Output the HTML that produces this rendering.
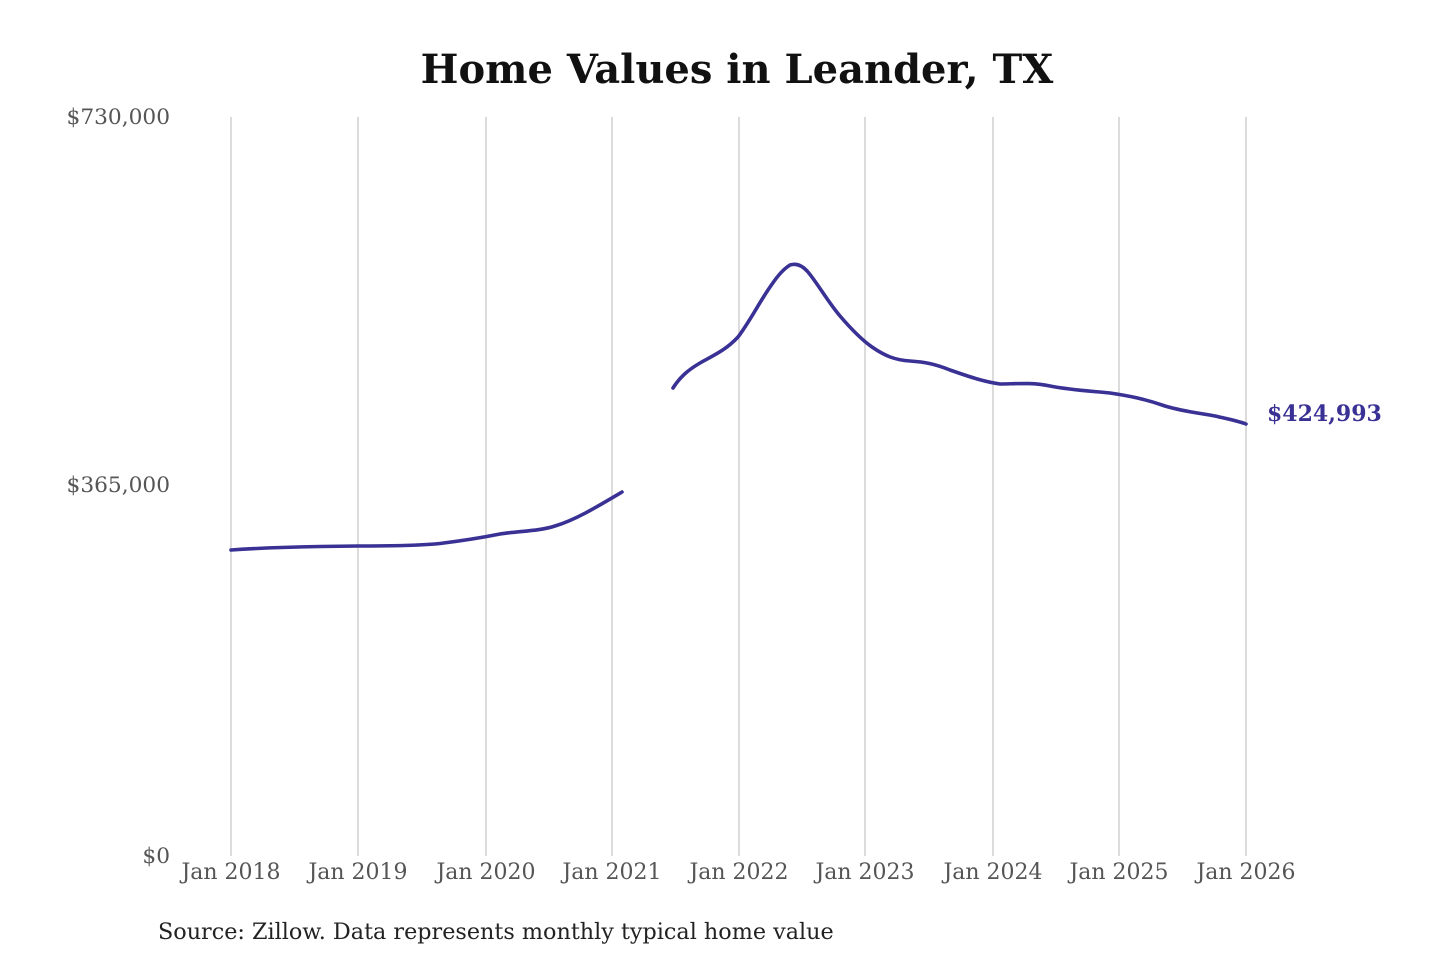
<!DOCTYPE html>
<html><head><meta charset="utf-8"><style>
html,body{margin:0;padding:0;background:#fff;}
svg{display:block;}
text{font-family:"DejaVu Serif","Liberation Serif",serif;}
</style></head><body>
<svg width="1440" height="960" viewBox="0 0 1440 960" xmlns="http://www.w3.org/2000/svg">
<rect width="1440" height="960" fill="#fff"/>
<text x="737" y="83" text-anchor="middle" font-size="40" font-weight="bold" fill="#111">Home Values in Leander, TX</text>
<g stroke="#c8c8c8" stroke-width="1.3">
<line x1="231" y1="117" x2="231" y2="856"/>
<line x1="358" y1="117" x2="358" y2="856"/>
<line x1="486" y1="117" x2="486" y2="856"/>
<line x1="612" y1="117" x2="612" y2="856"/>
<line x1="739" y1="117" x2="739" y2="856"/>
<line x1="865" y1="117" x2="865" y2="856"/>
<line x1="993" y1="117" x2="993" y2="856"/>
<line x1="1119" y1="117" x2="1119" y2="856"/>
<line x1="1246" y1="117" x2="1246" y2="856"/>
</g>
<g font-size="21.7" fill="#555" text-anchor="end">
<text x="170" y="124">$730,000</text>
<text x="170" y="492">$365,000</text>
<text x="170" y="863">$0</text>
</g>
<g font-size="22" fill="#555" text-anchor="middle">
<text x="231" y="879">Jan 2018</text>
<text x="358" y="879">Jan 2019</text>
<text x="486" y="879">Jan 2020</text>
<text x="612" y="879">Jan 2021</text>
<text x="739" y="879">Jan 2022</text>
<text x="865" y="879">Jan 2023</text>
<text x="993" y="879">Jan 2024</text>
<text x="1119" y="879">Jan 2025</text>
<text x="1246" y="879">Jan 2026</text>
</g>
<g fill="none" stroke="#3a3195" stroke-width="3.6" stroke-linejoin="round" stroke-linecap="round">
<path d="M231,550 C260,548 290,547 320,546.5 L358,546 C390,546 420,545.5 440,543.5 C460,541 475,539 500,534 C520,531 540,531 555,526 C575,520 595,508 622,492"/>
<path d="M673,388 C680,377 688,370 700,363 C712,356 725,351 738,337 C748,324 758,305 768,290 C776,278 782,270 790,265 C796,263 802,265 808,272 C818,284 828,302 840,316 C852,330 862,340 872,347 C885,356 895,360 910,361 C925,362 935,364 950,370 C970,377 985,382 1000,384 C1015,384 1030,382 1050,386 C1070,390 1090,391 1110,393 C1130,396 1145,399 1165,406 C1185,412 1200,413 1215,416 C1228,419 1238,421 1246,424"/>
</g>
<text x="1267" y="421" font-size="22" font-weight="bold" fill="#3a3195">$424,993</text>
<text x="158" y="939" font-size="22.3" fill="#222">Source: Zillow. Data represents monthly typical home value</text>
</svg>
</body></html>
